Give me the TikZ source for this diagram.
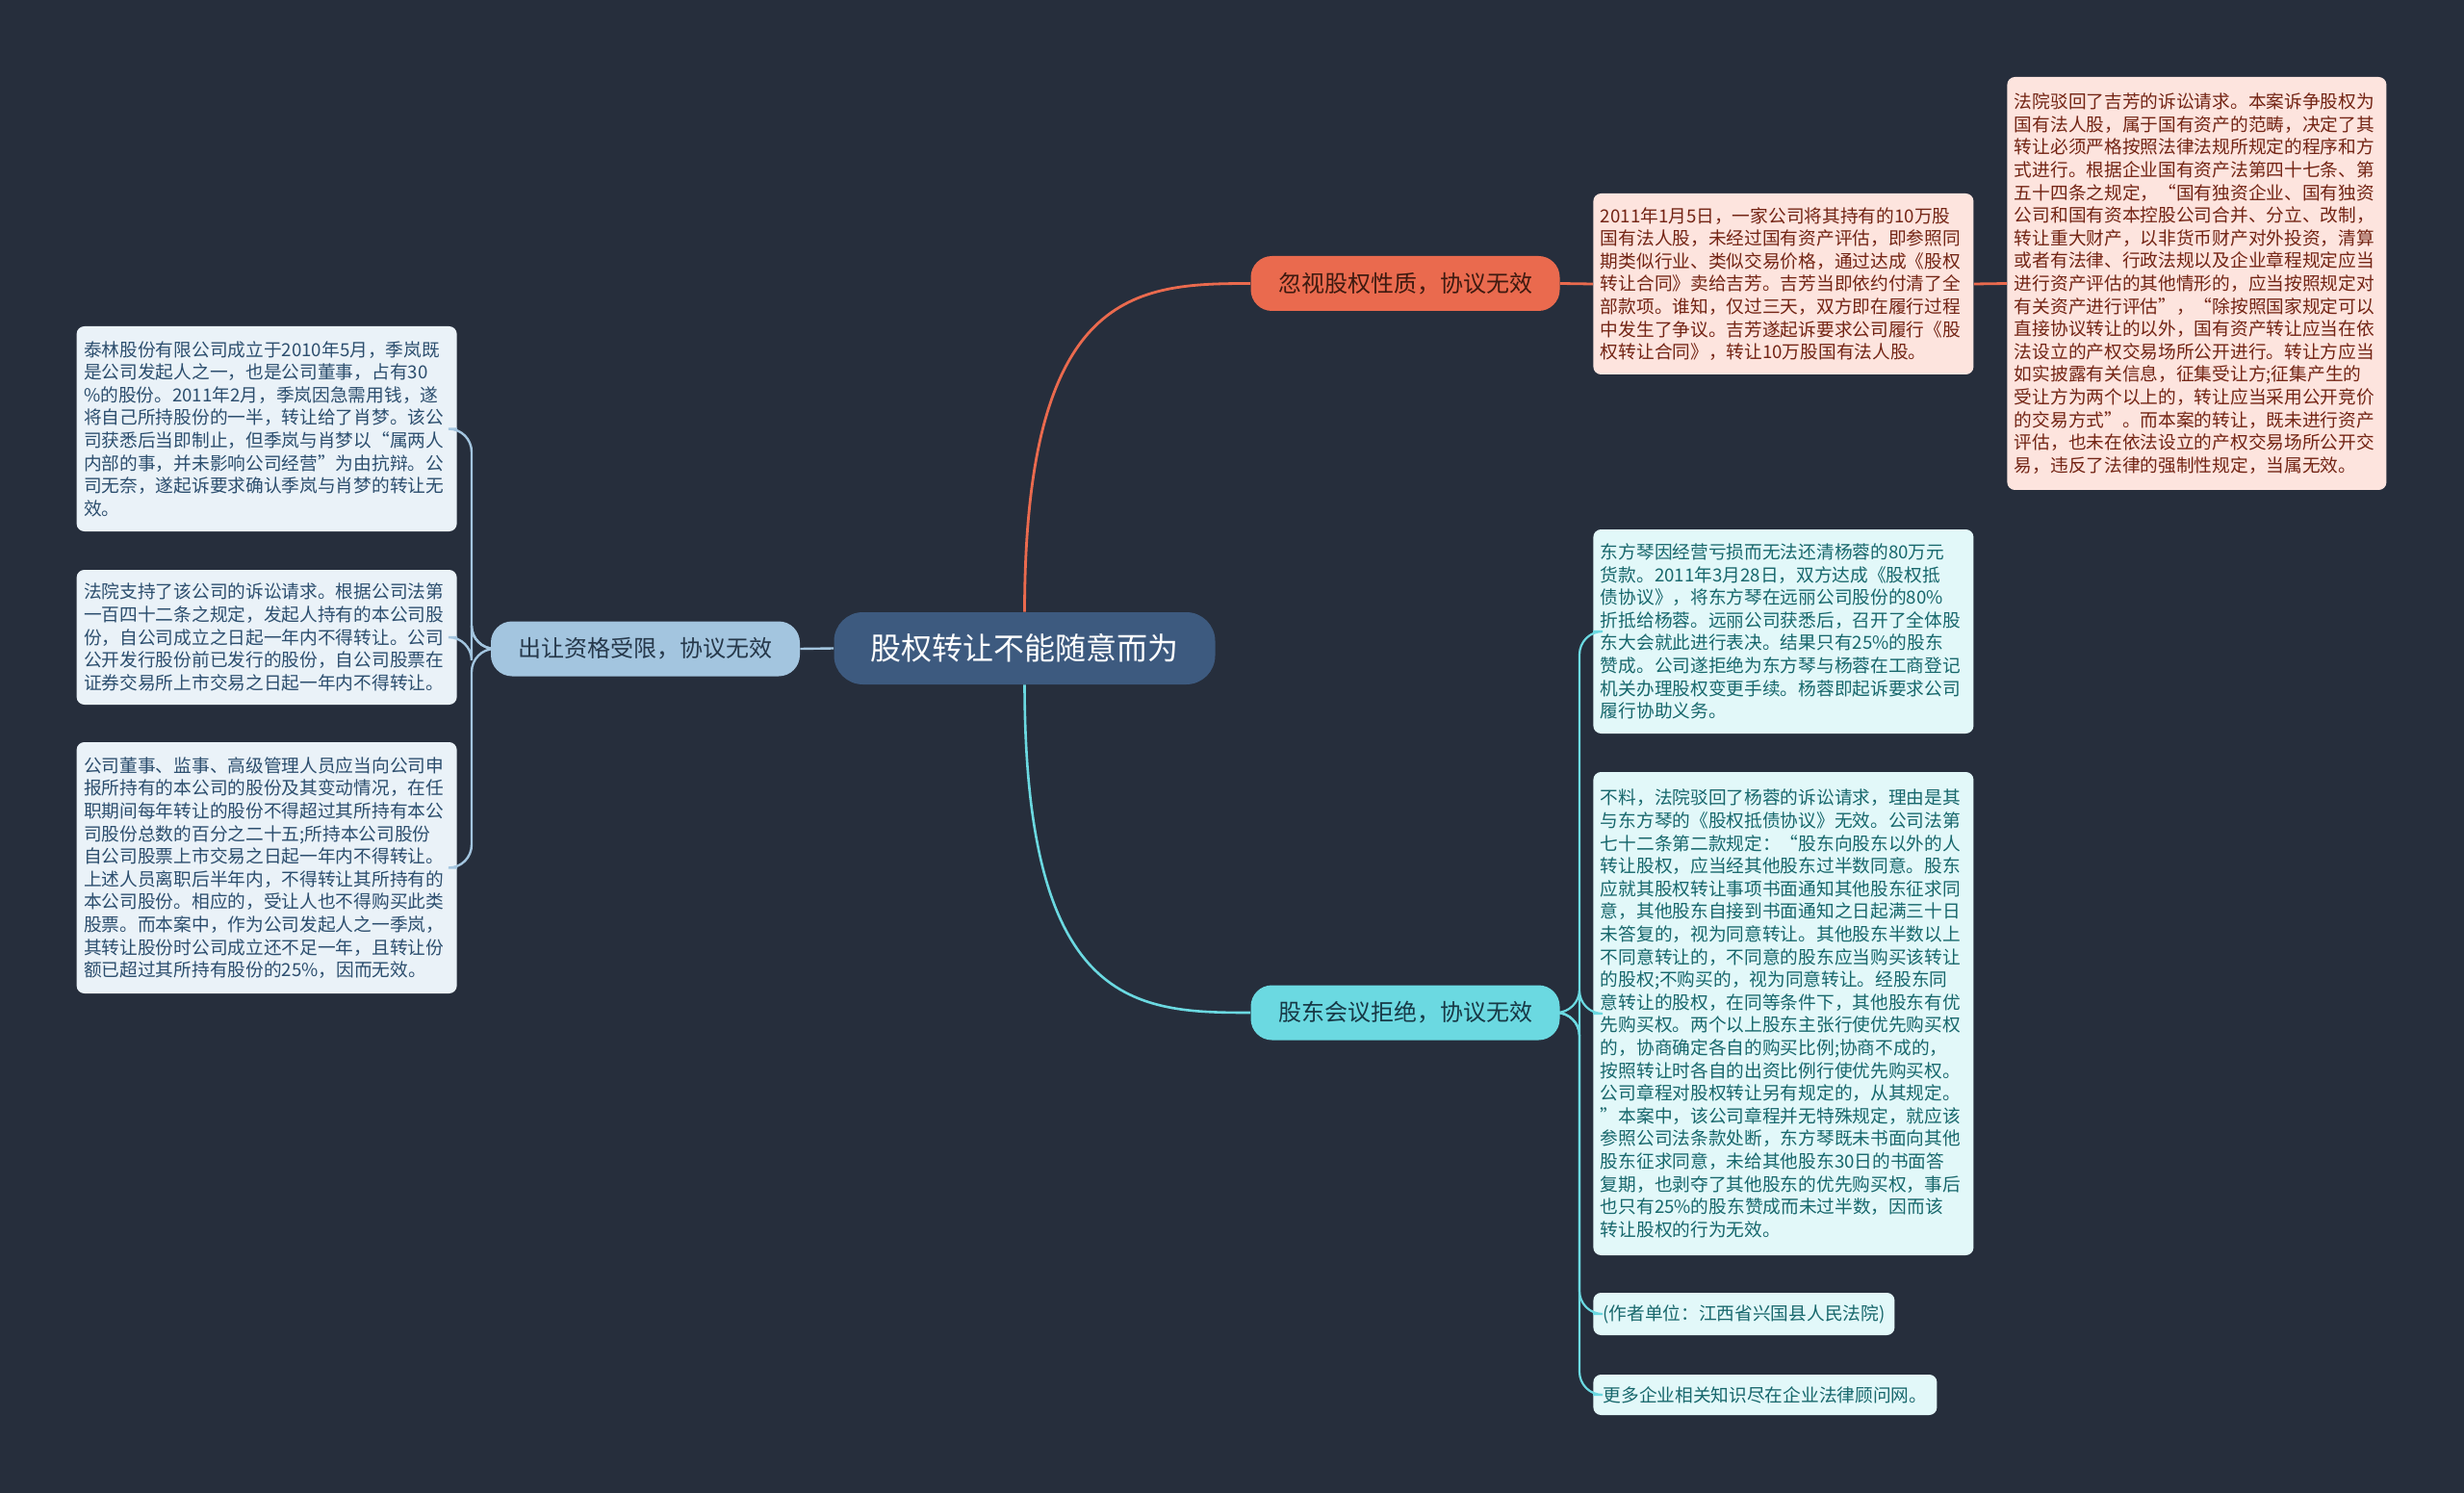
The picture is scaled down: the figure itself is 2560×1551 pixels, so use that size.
\documentclass[tikz,border=0pt]{standalone}
\usepackage{fontspec}
\setmainfont{Noto Sans CJK SC}
\definecolor{bg}{HTML}{262E3C}
\definecolor{rootc}{HTML}{3D5A7F}
\definecolor{lftc}{HTML}{A3C5DF}
\definecolor{orac}{HTML}{EA6A4E}
\definecolor{cync}{HTML}{6BD9E1}
\definecolor{lbox}{HTML}{EAF2F8}
\definecolor{ltext}{HTML}{2C4E6E}
\definecolor{obox}{HTML}{FDE4DE}
\definecolor{otext}{HTML}{732414}
\definecolor{cbox}{HTML}{E2F8F9}
\definecolor{ctext}{HTML}{17676C}
\definecolor{lfttext}{HTML}{26384A}
\definecolor{oratext}{HTML}{3E1A10}
\definecolor{cyntext}{HTML}{173845}
\tikzset{
  txtbox/.style={rounded corners=4pt, inner xsep=3.75pt, inner ysep=3pt, align=left,
    font=\fontsize{9.35pt}{11.8pt}\selectfont},
  wide/.style={txtbox, text width=190pt},
  lb/.style={wide, fill=lbox, text=ltext, anchor=east},
  ob/.style={wide, fill=obox, text=otext},
  cb/.style={wide, fill=cbox, text=ctext, anchor=west},
  branch/.style={rounded corners=11pt, minimum height=28.5pt, minimum width=160.5pt,
    inner sep=0pt, font=\fontsize{12pt}{14pt}\selectfont},
  lline/.style={draw=lftc, line width=1.2pt},
  oline/.style={draw=orac, line width=1.4pt},
  cline/.style={draw=cync, line width=1.3pt}
}
\begin{document}
\begin{tikzpicture}[x=0.5pt,y=-0.5pt]
\fill[bg] (0,0) rectangle (2560,1551);
\useasboundingbox (0,0) rectangle (2560,1551);

% main nodes
\node[fill=rootc, text=white, rounded corners=15pt, minimum width=198pt, minimum height=37.5pt,
  inner sep=0pt, font=\fontsize{16pt}{18pt}\selectfont] (root) at (1064.5,673.5) {股权转让不能随意而为};
\node[branch, fill=lftc, text=lfttext] (lft) at (670.5,674) {出让资格受限，协议无效};
\node[branch, fill=orac, text=oratext] (ora) at (1460,294.5) {忽视股权性质，协议无效};
\node[branch, fill=cync, text=cyntext] (cyn) at (1460,1052) {股东会议拒绝，协议无效};

% left boxes
\node[lb, minimum height=106.5pt] (lb1) at (475,445.5) {泰林股份有限公司成立于2010年5月，季岚既\\是公司发起人之一，也是公司董事，占有30\\\%的股份。2011年2月，季岚因急需用钱，遂\\将自己所持股份的一半，转让给了肖梦。该公\\司获悉后当即制止，但季岚与肖梦以“属两人\\内部的事，并未影响公司经营”为由抗辩。公\\司无奈，遂起诉要求确认季岚与肖梦的转让无\\效。};
\node[lb, minimum height=70pt] (lb2) at (475,662) {法院支持了该公司的诉讼请求。根据公司法第\\一百四十二条之规定，发起人持有的本公司股\\份，自公司成立之日起一年内不得转让。公司\\公开发行股份前已发行的股份，自公司股票在\\证券交易所上市交易之日起一年内不得转让。};
\node[lb, minimum height=130.5pt] (lb3) at (475,901.5) {公司董事、监事、高级管理人员应当向公司申\\报所持有的本公司的股份及其变动情况，在任\\职期间每年转让的股份不得超过其所持有本公\\司股份总数的百分之二十五;所持本公司股份\\自公司股票上市交易之日起一年内不得转让。\\上述人员离职后半年内，不得转让其所持有的\\本公司股份。相应的，受让人也不得购买此类\\股票。而本案中，作为公司发起人之一季岚，\\其转让股份时公司成立还不足一年，且转让份\\额已超过其所持有股份的25\%，因而无效。};

% orange boxes
\node[ob, anchor=west, minimum height=94pt] (tr) at (1655,295) {2011年1月5日，一家公司将其持有的10万股\\国有法人股，未经过国有资产评估，即参照同\\期类似行业、类似交易价格，通过达成《股权\\转让合同》卖给吉芳。吉芳当即依约付清了全\\部款项。谁知，仅过三天，双方即在履行过程\\中发生了争议。吉芳遂起诉要求公司履行《股\\权转让合同》，转让10万股国有法人股。};
\node[ob, anchor=west, minimum height=214.5pt, text width=189.5pt] (fr) at (2085,294.5) {法院驳回了吉芳的诉讼请求。本案诉争股权为\\国有法人股，属于国有资产的范畴，决定了其\\转让必须严格按照法律法规所规定的程序和方\\式进行。根据企业国有资产法第四十七条、第\\五十四条之规定，“国有独资企业、国有独资\\公司和国有资本控股公司合并、分立、改制，\\转让重大财产，以非货币财产对外投资，清算\\或者有法律、行政法规以及企业章程规定应当\\进行资产评估的其他情形的，应当按照规定对\\有关资产进行评估”，“除按照国家规定可以\\直接协议转让的以外，国有资产转让应当在依\\法设立的产权交易场所公开进行。转让方应当\\如实披露有关信息，征集受让方;征集产生的\\受让方为两个以上的，转让应当采用公开竞价\\的交易方式”。而本案的转让，既未进行资产\\评估，也未在依法设立的产权交易场所公开交\\易，违反了法律的强制性规定，当属无效。};

% cyan boxes
\node[cb, minimum height=106pt] (cb1) at (1655,656) {东方琴因经营亏损而无法还清杨蓉的80万元\\货款。2011年3月28日，双方达成《股权抵\\债协议》，将东方琴在远丽公司股份的80\%\\折抵给杨蓉。远丽公司获悉后，召开了全体股\\东大会就此进行表决。结果只有25\%的股东\\赞成。公司遂拒绝为东方琴与杨蓉在工商登记\\机关办理股权变更手续。杨蓉即起诉要求公司\\履行协助义务。};
\node[cb, minimum height=251pt] (cb2) at (1655,1053) {不料，法院驳回了杨蓉的诉讼请求，理由是其\\与东方琴的《股权抵债协议》无效。公司法第\\七十二条第二款规定：“股东向股东以外的人\\转让股权，应当经其他股东过半数同意。股东\\应就其股权转让事项书面通知其他股东征求同\\意，其他股东自接到书面通知之日起满三十日\\未答复的，视为同意转让。其他股东半数以上\\不同意转让的，不同意的股东应当购买该转让\\的股权;不购买的，视为同意转让。经股东同\\意转让的股权，在同等条件下，其他股东有优\\先购买权。两个以上股东主张行使优先购买权\\的，协商确定各自的购买比例;协商不成的，\\按照转让时各自的出资比例行使优先购买权。\\公司章程对股权转让另有规定的，从其规定。\\”本案中，该公司章程并无特殊规定，就应该\\参照公司法条款处断，东方琴既未书面向其他\\股东征求同意，未给其他股东30日的书面答\\复期，也剥夺了其他股东的优先购买权，事后\\也只有25\%的股东赞成而未过半数，因而该\\转让股权的行为无效。};
\node[txtbox, fill=cbox, text=ctext, anchor=west, minimum width=156.5pt, minimum height=22pt] (sb1) at (1655,1365) {(作者单位：江西省兴国县人民法院)};
\node[txtbox, fill=cbox, text=ctext, anchor=west, minimum width=178.5pt, minimum height=21pt] (sb2) at (1655,1449) {更多企业相关知识尽在企业法律顾问网。};

% junction points
\coordinate (jl) at (490,674);
\coordinate (jc) at (1641,1052);

% main connectors
\draw[lline] (root.west) -- (lft.east);
\draw[oline] (root.north) .. controls (1065,300) and (1180,294.5) .. (ora.west);
\draw[cline] (root.south) .. controls (1065,1047) and (1180,1052) .. (cyn.west);
\draw[oline] (ora.east) -- (tr.west);
\draw[oline] (tr.east) -- (fr.west);

% left brackets
\foreach \b in {lb1,lb2,lb3}
  \draw[lline, rounded corners=12pt] (lft.west) -| (jl |- \b.east) -- (\b.east);
% cyan brackets
\foreach \b in {cb1,cb2,sb1,sb2}
  \draw[cline, line width=1.1pt, rounded corners=12pt] (cyn.east) -| (jc |- \b.west) -- (\b.west);
\end{tikzpicture}
\end{document}
